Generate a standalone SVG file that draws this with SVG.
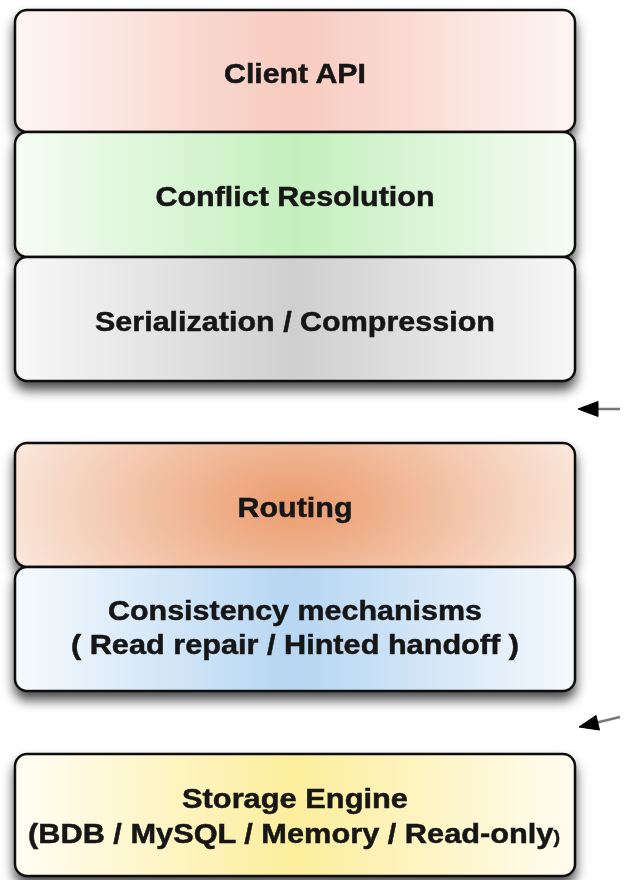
<svg xmlns="http://www.w3.org/2000/svg" width="625" height="880" viewBox="0 0 625 880">
<defs>
<style>
.box{stroke:#111;stroke-width:2.5}
.lbl{font-family:"Liberation Sans",Arial,Helvetica,sans-serif;font-weight:bold;font-size:28px;fill:#151515;stroke:#151515;stroke-width:0.5;text-anchor:middle}
.conn{stroke:#777;stroke-width:2.5;fill:none}
.head{fill:#000;stroke:#000;stroke-width:1;stroke-linejoin:round}
</style>
<linearGradient id="gRed" x1="0" y1="0" x2="1" y2="0">
<stop offset="0" stop-color="#fdf6f4"/><stop offset="0.35" stop-color="#f9d6cd"/><stop offset="0.5" stop-color="#f8cbbf"/><stop offset="0.7" stop-color="#fadbd3"/><stop offset="1" stop-color="#fdf5f3"/>
</linearGradient>
<linearGradient id="gGreen" x1="0" y1="0" x2="1" y2="0">
<stop offset="0" stop-color="#f6fdf5"/><stop offset="0.5" stop-color="#c4efbd"/><stop offset="1" stop-color="#f5fcf4"/>
</linearGradient>
<linearGradient id="gGray" x1="0" y1="0" x2="1" y2="0">
<stop offset="0" stop-color="#f8f8f8"/><stop offset="0.5" stop-color="#cfcfcf"/><stop offset="1" stop-color="#f7f7f7"/>
</linearGradient>
<radialGradient id="gOrange" cx="0.5" cy="0.5" r="0.6" gradientTransform="translate(0.5 0.5) scale(1 2.5) translate(-0.5 -0.5)">
<stop offset="0" stop-color="#eb9b6d"/><stop offset="1" stop-color="#fcf1ea"/>
</radialGradient>
<linearGradient id="gBlue" x1="0" y1="0" x2="1" y2="0">
<stop offset="0" stop-color="#f6fafd"/><stop offset="0.5" stop-color="#b6d6f2"/><stop offset="1" stop-color="#f5f9fd"/>
</linearGradient>
<linearGradient id="gYellow" x1="0" y1="0" x2="1" y2="0">
<stop offset="0" stop-color="#fffdf3"/><stop offset="0.5" stop-color="#fcee9c"/><stop offset="1" stop-color="#fffcf0"/>
</linearGradient>
<filter id="sh" x="-10%" y="-20%" width="120%" height="150%">
<feDropShadow dx="0" dy="8" stdDeviation="6" flood-color="#000" flood-opacity="0.7"/>
</filter>
</defs>
<g filter="url(#sh)">
<g id="client-api">
<rect class="box" x="15" y="10" width="560" height="122" rx="12" fill="url(#gRed)"/>
<text class="lbl" x="295" y="83" textLength="142" lengthAdjust="spacingAndGlyphs">Client API</text>
</g>
<g id="conflict-resolution">
<rect class="box" x="15" y="132" width="560" height="125" rx="12" fill="url(#gGreen)"/>
<text class="lbl" x="295" y="206" textLength="279" lengthAdjust="spacingAndGlyphs">Conflict Resolution</text>
</g>
<g id="serialization">
<rect class="box" x="15" y="257" width="560" height="124" rx="12" fill="url(#gGray)"/>
<text class="lbl" x="295" y="331" textLength="400" lengthAdjust="spacingAndGlyphs">Serialization / Compression</text>
</g>
</g>
<g filter="url(#sh)">
<g id="routing">
<rect class="box" x="15" y="443" width="560" height="124" rx="12" fill="url(#gOrange)"/>
<text class="lbl" x="295" y="517" textLength="115" lengthAdjust="spacingAndGlyphs">Routing</text>
</g>
<g id="consistency">
<rect class="box" x="15" y="567" width="560" height="124" rx="12" fill="url(#gBlue)"/>
<text class="lbl" x="295" y="620" textLength="374" lengthAdjust="spacingAndGlyphs">Consistency mechanisms</text>
<text class="lbl" x="295" y="654" textLength="448" lengthAdjust="spacingAndGlyphs">( Read repair / Hinted handoff )</text>
</g>
</g>
<g filter="url(#sh)">
<g id="storage-engine">
<rect class="box" x="15" y="754" width="560" height="122" rx="12" fill="url(#gYellow)"/>
<text class="lbl" x="295" y="808" textLength="226" lengthAdjust="spacingAndGlyphs">Storage Engine</text>
<text class="lbl" x="294" y="843" textLength="532" lengthAdjust="spacingAndGlyphs">(BDB / MySQL / Memory / Read-only<tspan font-size="18">)</tspan></text>
</g>
</g>
<g id="connectors">
<line class="conn" x1="620" y1="409" x2="595" y2="409"/>
<polygon class="head" points="578,409 598,401.5 598,416.5"/>
<line class="conn" x1="620" y1="717" x2="595" y2="723"/>
<polygon class="head" points="579,727 596,715.5 599.5,730"/>
</g>
</svg>
